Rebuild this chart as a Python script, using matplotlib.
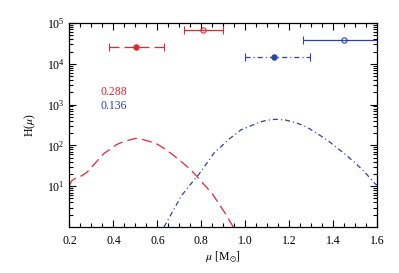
import matplotlib
matplotlib.use("Agg")
import matplotlib.pyplot as plt
from matplotlib.ticker import FixedLocator, LogFormatterMathtext, MultipleLocator, NullFormatter
import numpy as np

plt.rcParams['font.family'] = ['Liberation Serif', 'DejaVu Serif']
plt.rcParams['mathtext.fontset'] = 'stix'
plt.rcParams['lines.scale_dashes'] = False

# Data
red_x = [0.20, 0.21, 0.23, 0.256, 0.28, 0.30, 0.355, 0.415, 0.45, 0.50, 0.53, 0.56, 0.60, 0.635, 0.665,
         0.695, 0.73, 0.77, 0.80, 0.85, 0.91, 0.945]
red_y = [10.5, 13.5, 16.0, 18.0, 22.0, 29.0, 62.0, 105.0, 126.0, 148.0, 141.0, 127.0, 107.0, 81.0, 62.0,
         46.0, 32.0, 20.0, 13.0, 6.5, 2.1, 1.0]
blue_x = [0.63, 0.71, 0.75, 0.79, 0.83, 0.86, 0.885, 0.93, 0.98, 1.02, 1.07, 1.10, 1.14, 1.185, 1.23,
          1.28, 1.32, 1.37, 1.415, 1.46, 1.505, 1.55, 1.59, 1.60]
blue_y = [1.0, 5.9, 11.0, 20.0, 40.0, 68.0, 89.0, 148.0, 240.0, 295.0, 380.0, 415.0, 436.0, 415.0, 360.0,
          280.0, 205.0, 138.0, 89.0, 57.0, 35.0, 20.0, 11.5, 10.5]

# Error-bar points: center, low, high, height
red_fill = (0.502, 0.379, 0.629, 26000)
red_open = (0.808, 0.723, 0.900, 66000)
blue_fill = (1.129, 0.998, 1.294, 14800)
blue_open = (1.450, 1.260, 1.700, 38000)

label_red = "0.288"
label_blue = "0.136"

RED = '#e8262e'
BLUE = '#2a44a4'

fig = plt.figure(figsize=(3.99, 2.73), dpi=100)
ax = fig.add_axes([0.174, 0.1685, 0.7716, 0.7473])

ax.plot(red_x, red_y, color=RED, lw=0.9, dashes=(7.2, 3.6))
ax.plot(blue_x, blue_y, color=BLUE, lw=0.9, dashes=(3.6, 2.2, 0.8, 2.2))

def ebar(p, color, ls, mfc):
    c, lo, hi, y = p
    eb = ax.errorbar([c], [y], xerr=[[c - lo], [hi - c]], fmt='o', color=color,
                     ms=3.8, mfc=mfc, mec=color, mew=0.8, elinewidth=0.9,
                     capsize=2.6, capthick=0.9)
    for lc in eb[2]:
        lc.set_linestyle(ls)

ebar(red_fill, RED, (0, (7.2, 3.6)), RED)
ebar(red_open, RED, '-', 'none')
ebar(blue_fill, BLUE, (0, (3.6, 2.2, 0.8, 2.2)), BLUE)
ebar(blue_open, BLUE, '-', 'none')

ax.text(0.1, 0.662, label_red, color=RED, fontsize=8.5, transform=ax.transAxes, va='center', ha='left')
ax.text(0.1, 0.593, label_blue, color=BLUE, fontsize=8.5, transform=ax.transAxes, va='center', ha='left')

ax.set_yscale('log')
ax.set_xlim(0.2, 1.6)
ax.set_ylim(1, 1e5)
ax.xaxis.set_major_locator(MultipleLocator(0.2))
ax.xaxis.set_minor_locator(MultipleLocator(0.05))
ax.xaxis.set_major_formatter(matplotlib.ticker.FormatStrFormatter('%.1f'))
ax.yaxis.set_major_locator(FixedLocator([10, 1e2, 1e3, 1e4, 1e5]))
minors = [m * 10**d for d in range(0, 5) for m in range(2, 10)]
ax.yaxis.set_minor_locator(FixedLocator(minors))
ax.yaxis.set_major_formatter(LogFormatterMathtext())
ax.yaxis.set_minor_formatter(NullFormatter())

ax.tick_params(which='both', direction='in', top=True, right=True, labelsize=8.5, width=0.8)
ax.tick_params(which='major', length=5)
ax.tick_params(which='minor', length=2.7)
ax.tick_params(axis='x', pad=6)
for s in ax.spines.values():
    s.set_linewidth(0.9)

ax.set_xlabel(r'$\mu$ [M$_{\odot}$]', fontsize=8.5, labelpad=2)
ax.set_ylabel(r'H($\mu$)', fontsize=8.5, labelpad=6)

fig.savefig('out.png', dpi=100)
